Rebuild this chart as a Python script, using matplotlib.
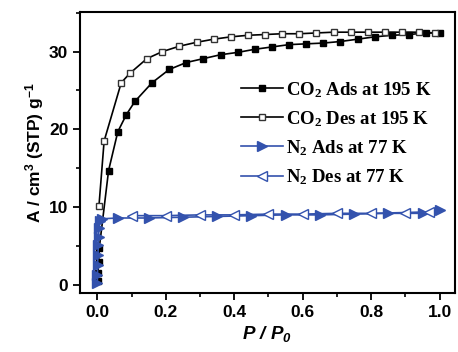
import matplotlib
matplotlib.use('Agg')
import matplotlib.pyplot as plt
from matplotlib.ticker import MultipleLocator

plt.rcParams['mathtext.default'] = 'regular'

# CO2 при 195 K, адсорбция (закрашенные квадраты)
co2_ads_p = [0.001, 0.002, 0.004, 0.006, 0.033, 0.06, 0.085, 0.11, 0.16, 0.21, 0.26, 0.31, 0.36,
             0.41, 0.46, 0.51, 0.56, 0.61, 0.66, 0.71, 0.76, 0.81, 0.86, 0.91, 0.96, 1.0]
co2_ads_a = [0.5, 1.5, 3.0, 4.8, 14.7, 19.7, 21.9, 23.6, 26.0, 27.7, 28.6, 29.1, 29.6,
             29.9, 30.3, 30.6, 30.9, 31.0, 31.1, 31.3, 31.6, 31.9, 32.1, 32.2, 32.4, 32.4]

# CO2 при 195 K, десорбция (пустые квадраты)
co2_des_p = [0.005, 0.02, 0.07, 0.095, 0.145, 0.19, 0.24, 0.29, 0.34, 0.39, 0.44, 0.49, 0.54,
             0.59, 0.64, 0.69, 0.74, 0.79, 0.84, 0.89, 0.94, 0.985]
co2_des_a = [10.2, 18.5, 26.0, 27.2, 29.1, 30.0, 30.7, 31.2, 31.6, 31.9, 32.1, 32.2, 32.3,
             32.3, 32.4, 32.5, 32.5, 32.5, 32.5, 32.5, 32.5, 32.4]

# N2 при 77 K, адсорбция
n2_ads_p = [0.0, 0.0005, 0.001, 0.002, 0.003, 0.004, 0.005, 0.007, 0.015, 0.06, 0.15, 0.25,
            0.35, 0.45, 0.55, 0.65, 0.75, 0.85, 0.95, 1.0]
n2_ads_a = [0.3, 1.3, 2.6, 3.9, 5.1, 6.2, 7.3, 8.2, 8.5, 8.6, 8.6, 8.7,
            8.8, 8.9, 9.0, 9.0, 9.1, 9.2, 9.2, 9.6]

# N2 при 77 K, десорбция
n2_des_p = [0.97, 0.9, 0.8, 0.7, 0.6, 0.5, 0.4, 0.3, 0.2, 0.1]
n2_des_a = [9.4, 9.3, 9.2, 9.2, 9.1, 9.1, 9.0, 9.0, 8.9, 8.9]

blue = '#3352ad'

fig = plt.figure(figsize=(4.58, 3.52), dpi=100)
ax = fig.add_axes([0.175, 0.168, 0.818, 0.798])

ax.plot(co2_ads_p, co2_ads_a, '-s', color='black', lw=1.2, ms=5, mfc='black',
        label='CO$_2$ Ads at 195 K')
ax.plot(co2_des_p, co2_des_a, '-s', color='black', lw=1.2, ms=5, mfc='white', mec='#333333',
        label='CO$_2$ Des at 195 K')
ax.plot(n2_ads_p, n2_ads_a, '->', color=blue, lw=1.2, ms=7, mfc=blue,
        label='N$_2$ Ads at 77 K')
ax.plot(n2_des_p, n2_des_a, '-<', color=blue, lw=1.2, ms=7, mfc='white',
        label='N$_2$ Des at 77 K')

ax.set_xlim(-0.05, 1.044)
ax.set_ylim(-1.03, 35.1)
ax.xaxis.set_major_locator(MultipleLocator(0.2))
ax.xaxis.set_minor_locator(MultipleLocator(0.1))
ax.yaxis.set_major_locator(MultipleLocator(10))
ax.yaxis.set_minor_locator(MultipleLocator(5))
ax.xaxis.set_major_formatter(plt.FuncFormatter(lambda x, _: f'{x:.1f}'))

ax.tick_params(which='major', direction='out', length=5, width=1.3, labelsize=12.5)
ax.tick_params(which='minor', direction='out', length=3, width=1.2)
ax.tick_params(axis='y', which='both', right=False)
for s in ax.spines.values():
    s.set_linewidth(1.5)
for lab in ax.get_xticklabels() + ax.get_yticklabels():
    lab.set_fontweight('bold')
    lab.set_family('Liberation Sans')

ax.set_ylabel('A / cm$^3$ (STP) g$^{-1}$', family='Liberation Sans', weight='bold',
              fontsize=12.5, labelpad=2)
ax.set_xlabel('P / P$_0$', family='Liberation Sans', weight='bold', style='italic',
              fontsize=13.5, labelpad=3)

ax.legend(loc='upper left', bbox_to_anchor=(0.41, 0.785), frameon=False,
          prop={'family': 'Liberation Serif', 'weight': 'bold', 'size': 13.5},
          handlelength=2.2, handletextpad=0.2, labelspacing=0.5, borderaxespad=0)

fig.savefig('out.png', dpi=100)
